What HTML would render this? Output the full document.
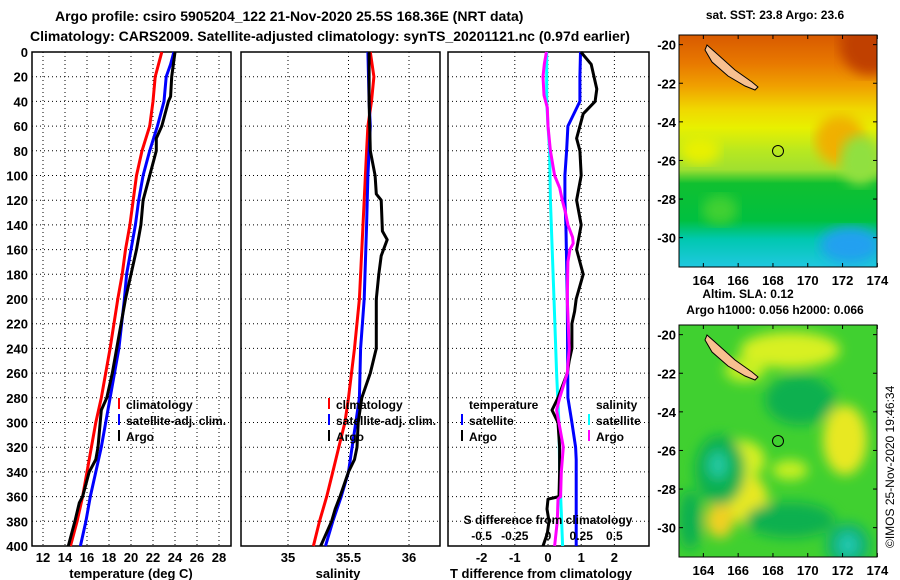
<!DOCTYPE html>
<html><head><meta charset="utf-8">
<style>
html,body{margin:0;padding:0;background:#fff;}
svg{display:block;font-family:"Liberation Sans",sans-serif;font-weight:bold;}
</style></head>
<body>
<svg id="c" width="900" height="580" viewBox="0 0 900 580" xmlns="http://www.w3.org/2000/svg">
<defs>
<linearGradient id="sstg" x1="0" y1="0" x2="0" y2="1">
<stop offset="0" stop-color="#d85a00"/>
<stop offset="0.12" stop-color="#e87800"/>
<stop offset="0.22" stop-color="#f0a000"/>
<stop offset="0.32" stop-color="#f0d800"/>
<stop offset="0.40" stop-color="#e8f000"/>
<stop offset="0.50" stop-color="#b8e820"/>
<stop offset="0.58" stop-color="#a0e030"/>
<stop offset="0.64" stop-color="#10c030"/>
<stop offset="0.80" stop-color="#00c040"/>
<stop offset="0.88" stop-color="#00c8b0"/>
<stop offset="1" stop-color="#20c8e0"/>
</linearGradient>
<filter id="blur6"><feGaussianBlur stdDeviation="6"/></filter>
<filter id="blur3"><feGaussianBlur stdDeviation="3"/></filter>
<clipPath id="m1clip"><rect x="679" y="35" width="198" height="232"/></clipPath>
<clipPath id="m2clip"><rect x="679" y="325" width="198" height="232"/></clipPath>
</defs>

<text x="55" y="21" font-size="14">Argo profile: csiro 5905204_122 21-Nov-2020 25.5S 168.36E (NRT data)</text>
<text x="30" y="41" font-size="14">Climatology: CARS2009. Satellite-adjusted climatology: synTS_20201121.nc (0.97d earlier)</text>

<g id="p1"></g>
<g id="p2"></g>
<g id="p3"></g>

<!-- SST map -->
<g>
<text x="775" y="19" font-size="12" text-anchor="middle">sat. SST: 23.8 Argo: 23.6</text>
<g clip-path="url(#m1clip)">
<rect x="679" y="35" width="198" height="232" fill="url(#sstg)"/>
<ellipse cx="870" cy="45" rx="30" ry="30" fill="#c04000" filter="url(#blur6)"/>
<ellipse cx="840" cy="140" rx="25" ry="25" fill="#f0b000" filter="url(#blur6)"/>
<ellipse cx="700" cy="150" rx="20" ry="14" fill="#e8f000" filter="url(#blur6)"/>
<ellipse cx="720" cy="210" rx="18" ry="15" fill="#40d030" filter="url(#blur6)"/>
<ellipse cx="850" cy="245" rx="30" ry="18" fill="#20a0f0" filter="url(#blur6)"/>
<ellipse cx="860" cy="160" rx="20" ry="25" fill="#90e040" filter="url(#blur6)"/>
</g>
<polygon points="707,45 715,52 735,70 752,82 758,87 755,90 745,86 728,76 712,62 705,50" fill="#f8c090" stroke="#000" stroke-width="1"/>
<circle cx="778" cy="151" r="5.5" fill="none" stroke="#000" stroke-width="1"/>
<rect x="679" y="35" width="198" height="232" fill="none" stroke="#000" stroke-width="1"/>
<g id="m1ax"></g>
</g>

<!-- SLA map -->
<g>
<text x="748" y="298" font-size="12" text-anchor="middle">Altim. SLA: 0.12</text>
<text x="775" y="314" font-size="12" text-anchor="middle">Argo h1000: 0.056 h2000: 0.066</text>
<g clip-path="url(#m2clip)">
<rect x="679" y="325" width="198" height="232" fill="#40d030"/>
<g filter="url(#blur6)">
<ellipse cx="790" cy="350" rx="50" ry="18" fill="#d8f020"/>
<ellipse cx="845" cy="440" rx="22" ry="35" fill="#e8e820"/>
<ellipse cx="748" cy="500" rx="20" ry="25" fill="#e8e820"/>
<ellipse cx="720" cy="520" rx="14" ry="18" fill="#f0d020"/>
<ellipse cx="740" cy="460" rx="25" ry="20" fill="#d8f020"/>
<ellipse cx="745" cy="370" rx="20" ry="12" fill="#c8f020"/>
<ellipse cx="720" cy="470" rx="25" ry="35" fill="#10b050"/>
<ellipse cx="718" cy="465" rx="10" ry="14" fill="#20c8a0"/>
<ellipse cx="800" cy="400" rx="35" ry="25" fill="#10b050"/>
<ellipse cx="790" cy="520" rx="45" ry="18" fill="#10b050"/>
<ellipse cx="848" cy="545" rx="22" ry="22" fill="#10b070"/>
<ellipse cx="848" cy="545" rx="10" ry="12" fill="#20c8b0"/>
<ellipse cx="690" cy="520" rx="12" ry="30" fill="#10b050"/>
<ellipse cx="790" cy="470" rx="18" ry="10" fill="#c8f020"/>
</g>
</g>
<polygon points="707,335 715,342 735,360 752,372 758,377 755,380 745,376 728,366 712,352 705,340" fill="#f8c090" stroke="#000" stroke-width="1"/>
<circle cx="778" cy="441" r="5.5" fill="none" stroke="#000" stroke-width="1"/>
<rect x="679" y="325" width="198" height="232" fill="none" stroke="#000" stroke-width="1"/>
<g id="m2ax"></g>
</g>
<text transform="translate(894,548) rotate(-90)" font-size="12" font-weight="normal">©IMOS 25-Nov-2020 19:46:34</text>
</svg>

<script>
// ---------- data ----------
const depthTicks = [0,20,40,60,80,100,120,140,160,180,200,220,240,260,280,300,320,340,360,380,400];
const tempTicks = [12,14,16,18,20,22,24,26,28];
const salTicks = [35,35.5,36];
const salTickLabels = ["35","35.5","36"];
const diffTicks = [-2,-1,0,1,2];
const sDiffTickLabels = ["-0.5","-0.25","0","0.25","0.5"];

const tempClimDepth = [0,20,40,60,80,100,120,140,160,180,200,240,280,300,320,340,360,380,400];
const tempClimValue = [22.8,22.2,22.0,21.7,21.0,20.5,20.2,19.9,19.5,19.2,18.8,18.1,17.3,16.8,16.4,16.0,15.6,15.1,14.5];
const tempSatDepth = [0,10,20,40,60,80,100,120,140,160,180,200,240,280,300,320,340,360,380,400];
const tempSatValue = [23.9,23.6,23.2,23.0,22.4,21.7,21.1,20.7,20.4,20.0,19.6,19.4,18.9,18.1,17.7,17.3,16.8,16.3,15.9,15.4];
const tempArgoDepth = [0,20,36,40,60,70,80,100,110,120,140,160,180,200,260,280,290,310,320,330,340,360,365,380,400];
const tempArgoValue = [24.0,23.7,23.6,23.4,22.8,22.3,22.3,21.7,21.4,21.1,20.9,20.5,20.0,19.5,18.3,17.8,17.3,17.1,17.0,16.8,16.2,15.6,15.3,14.9,14.3];

const salClimDepth = [0,20,40,60,80,100,140,180,200,240,280,300,320,340,360,380,400];
const salClimValue = [35.68,35.71,35.69,35.66,35.65,35.64,35.62,35.60,35.59,35.55,35.50,35.47,35.42,35.37,35.32,35.26,35.21];
const salSatDepth = [0,40,60,100,140,200,240,280,300,320,340,360,380,400];
const salSatValue = [35.66,35.67,35.68,35.66,35.65,35.63,35.60,35.59,35.56,35.53,35.50,35.44,35.37,35.31];
const salArgoDepth = [0,40,80,100,115,120,145,152,165,180,200,240,260,280,300,320,330,340,360,370,380,400];
const salArgoValue = [35.67,35.67,35.68,35.72,35.73,35.77,35.78,35.82,35.77,35.75,35.73,35.73,35.68,35.61,35.58,35.57,35.55,35.50,35.43,35.39,35.36,35.27];

const tDiffSatDepth = [0,20,40,60,80,100,120,140,200,280,300,320,330,400];
const tDiffSatValue = [0.98,0.96,0.96,0.60,0.56,0.51,0.51,0.54,0.58,0.60,0.72,0.83,0.85,0.85];
const tDiffArgoDepth = [0,10,30,40,50,60,70,80,100,120,140,160,180,200,210,220,240,250,260,280,290,300,320,340,360,362,370,380,390,400];
const tDiffArgoValue = [0.99,1.30,1.47,1.42,1.06,0.96,0.86,0.96,1.00,0.86,1.00,0.86,1.06,0.85,0.80,0.72,0.72,0.64,0.58,0.30,0.12,0.30,0.35,0.35,0.33,0.00,-0.03,0.03,-0.02,-0.15];
// salinity differences (psu)
const sDiffSatDepth = [0,40,60,80,120,200,260,300,340,400];
const sDiffSatValue = [-0.01,-0.01,0.0,0.012,0.018,0.045,0.065,0.082,0.088,0.11];
const sDiffArgoDepth = [0,10,20,35,45,60,80,100,110,120,130,140,150,155,160,170,200,240,260,280,290,300,320,340,360,362,380,400];
const sDiffArgoValue = [-0.012,-0.028,-0.038,-0.03,-0.005,0.0,0.018,0.05,0.088,0.108,0.132,0.15,0.185,0.19,0.165,0.15,0.145,0.16,0.145,0.088,0.065,0.082,0.115,0.1,0.095,0.075,0.07,0.05];

const lonTicks = [164,166,168,170,172,174];
const latTicks = [-20,-22,-24,-26,-28,-30];

// ---------- layout ----------
const NS = "http://www.w3.org/2000/svg";
const Y0 = 52, Y1 = 546;
function yScale(d){ return Y0 + (d/400)*(Y1-Y0); }
const P1 = {l:32, r:231}; const P2 = {l:241, r:440}; const P3 = {l:448, r:649};
function xTemp(t){ return 43 + (t-12)*11.0; }
function xSal(s){ return 288 + (s-35)*121; }
function xDiff(v){ return 548 + v*33.2; }
function xSDiff(v){ return xDiff(v*4); }

function mk(tag, attrs, parent){
  const e = document.createElementNS(NS, tag);
  for (const k in attrs) e.setAttribute(k, attrs[k]);
  parent.appendChild(e);
  return e;
}
function txt(parent, x, y, s, size, anchor){
  const t = mk('text', {x:x, y:y, 'font-size':size, 'text-anchor':anchor||'start'}, parent);
  t.textContent = s;
  return t;
}

function panel(g, P, xs, vticks){
  // grid
  depthTicks.forEach(d=>{
    if (d===0||d===400) return;
    const l = mk('line',{x1:P.l,x2:P.r,y1:yScale(d),y2:yScale(d),stroke:'#000','stroke-width':1,'stroke-dasharray':'1,3'},g);
    
    
  });
  vticks.forEach(v=>{
    const x = xs(v);
    if (x<=P.l+1||x>=P.r-1) return;
    const l = mk('line',{x1:x,x2:x,y1:Y0,y2:Y1,stroke:'#000','stroke-width':1,'stroke-dasharray':'1,3'},g);
    
    
  });
  const r = mk('rect',{x:P.l,y:Y0,width:P.r-P.l,height:Y1-Y0,fill:'none',stroke:'#000','stroke-width':1.5},g);
  
  
}
function series(g, depths, vals, xs, color, name){
  const pts = depths.map((d,i)=> xs(vals[i]).toFixed(1)+','+yScale(d).toFixed(1)).join(' ');
  const p = mk('polyline',{points:pts,fill:'none',stroke:color,'stroke-width':3,'stroke-linejoin':'round'},g);
  
  
}
function legendEntry(g, x, y, color, label){
  const m = mk('line',{x1:x,x2:x,y1:y-11,y2:y,stroke:color,'stroke-width':2},g);
  
  
  const t = txt(g, x+7, y, label, 12);
  
  
}

// Panel 1
const g1 = document.getElementById('p1');
panel(g1, P1, xTemp, tempTicks);
depthTicks.forEach(d=>{
  const t = txt(g1, 28, yScale(d)+5, String(d), 13, 'end');
  
  
});
tempTicks.forEach(v=>{
  const t = txt(g1, xTemp(v), 562, String(v), 13, 'middle');
  
  
});
const tt1 = txt(g1, 131, 578, 'temperature (deg C)', 13, 'middle');


series(g1, tempClimDepth, tempClimValue, xTemp, '#ff0000', 'temp-climatology-line');
series(g1, tempSatDepth, tempSatValue, xTemp, '#0000ff', 'temp-satellite-line');
series(g1, tempArgoDepth, tempArgoValue, xTemp, '#000000', 'temp-argo-line');
legendEntry(g1, 119, 409, '#ff0000', 'climatology');
legendEntry(g1, 119, 425, '#0000ff', 'satellite-adj. clim.');
legendEntry(g1, 119, 441, '#000000', 'Argo');

// Panel 2
const g2 = document.getElementById('p2');
panel(g2, P2, xSal, salTicks);
salTicks.forEach((v,i)=>{
  const t = txt(g2, xSal(v), 562, salTickLabels[i], 13, 'middle');
  
  
});
const tt2 = txt(g2, 338, 578, 'salinity', 13, 'middle');


series(g2, salClimDepth, salClimValue, xSal, '#ff0000', 'sal-climatology-line');
series(g2, salSatDepth, salSatValue, xSal, '#0000ff', 'sal-satellite-line');
series(g2, salArgoDepth, salArgoValue, xSal, '#000000', 'sal-argo-line');
legendEntry(g2, 329, 409, '#ff0000', 'climatology');
legendEntry(g2, 329, 425, '#0000ff', 'satellite-adj. clim.');
legendEntry(g2, 329, 441, '#000000', 'Argo');

// Panel 3
const g3 = document.getElementById('p3');
panel(g3, P3, xDiff, diffTicks);
diffTicks.forEach(v=>{
  const t = txt(g3, xDiff(v), 562, String(v), 13, 'middle');
  
  
});
const tt3 = txt(g3, 541, 578, 'T difference from climatology', 13, 'middle');


series(g3, sDiffSatDepth, sDiffSatValue, xSDiff, '#00ffff', 's-diff-satellite-line');
series(g3, tDiffSatDepth, tDiffSatValue, xDiff, '#0000ff', 't-diff-satellite-line');
series(g3, tDiffArgoDepth, tDiffArgoValue, xDiff, '#000000', 't-diff-argo-line');
series(g3, sDiffArgoDepth, sDiffArgoValue, xSDiff, '#ff00ff', 's-diff-argo-line');
const lt = txt(g3, 469, 409, 'temperature', 12);  
const ls = txt(g3, 596, 409, 'salinity', 12);  
legendEntry(g3, 462, 425, '#0000ff', 'satellite');
legendEntry(g3, 462, 441, '#000000', 'Argo');
legendEntry(g3, 589, 425, '#00ffff', 'satellite');
legendEntry(g3, 589, 441, '#ff00ff', 'Argo');
const sdt = txt(g3, 548, 524, 'S difference from climatology', 12, 'middle');


diffTicks.forEach((v,i)=>{
  const t = txt(g3, xDiff(v), 540, sDiffTickLabels[i], 12, 'middle');
  
  
});

// Map axes
function mapAxes(id, top){
  const g = document.getElementById(id);
  const L=679, R=877, B=top+232;
  const xl = lon => L + (lon-162.6)*17.4;
  const yl = lat => top + (-19.5-lat)*19.3;
  lonTicks.forEach(v=>{
    mk('line',{x1:xl(v),x2:xl(v),y1:B,y2:B-4,stroke:'#000'},g);
    mk('line',{x1:xl(v),x2:xl(v),y1:top,y2:top+4,stroke:'#000'},g);
    const t = txt(g, xl(v), B+18, String(v), 13, 'middle');
    
    
  });
  latTicks.forEach(v=>{
    mk('line',{x1:R,x2:R-4,y1:yl(v),y2:yl(v),stroke:'#000'},g);
    mk('line',{x1:L,x2:L+4,y1:yl(v),y2:yl(v),stroke:'#000'},g);
    const t = txt(g, L-3, yl(v)+5, String(v), 13, 'end');
    
    
  });
}
mapAxes('m1ax', 35);
mapAxes('m2ax', 325);
</script>
</body></html>
